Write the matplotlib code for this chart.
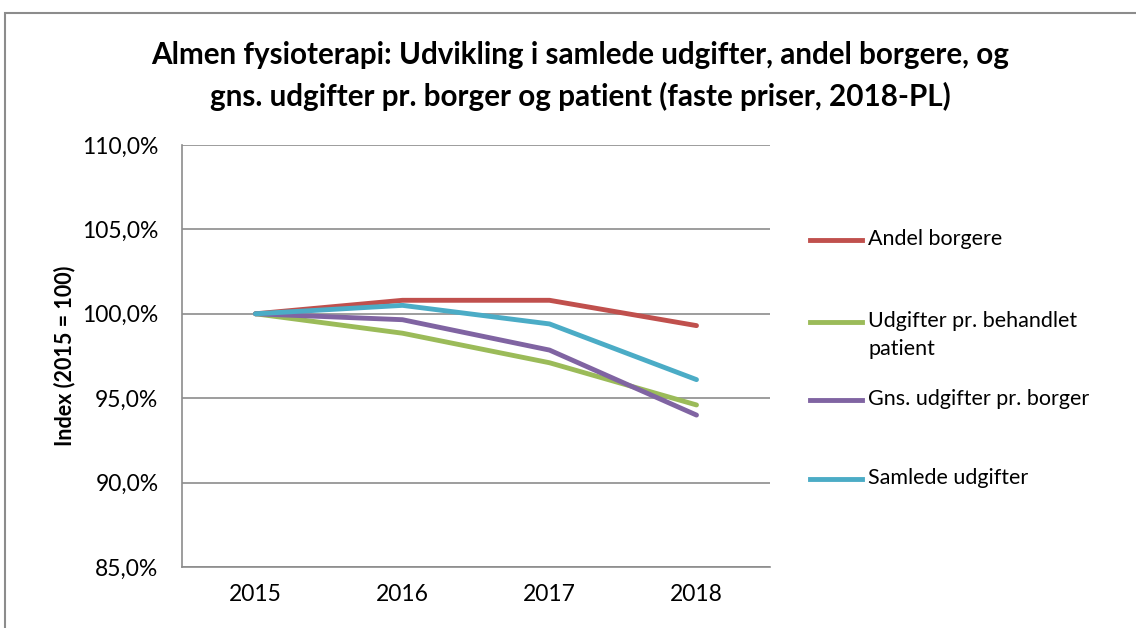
import matplotlib
matplotlib.use("Agg")
import matplotlib.pyplot as plt
from matplotlib.patches import Rectangle
from matplotlib.ticker import FuncFormatter

years = ["2015", "2016", "2017", "2018"]
andel_borgere = [100.0, 100.8, 100.8, 99.3]
udgifter_behandlet = [100.0, 98.85, 97.1, 94.6]
gns_udgifter_borger = [100.0, 99.65, 97.85, 94.0]
samlede_udgifter = [100.0, 100.5, 99.4, 96.1]

series_labels = ["Andel borgere", "Udgifter pr. behandlet\npatient",
                 "Gns. udgifter pr. borger", "Samlede udgifter"]
series_colors = ["#C0504D", "#9BBB59", "#8064A2", "#4BACC6"]
yticks = [85, 90, 95, 100, 105, 110]

plt.rcParams['font.family'] = ['Lato', 'DejaVu Sans']

W, H = 1136, 628
fig = plt.figure(figsize=(W / 100, H / 100), dpi=100)
fig.patch.set_facecolor("white")

# outer chart border
fig.add_artist(Rectangle((5 / W, -0.05), (W - 5) / W + 0.1, 1.05 - 13 / H,
                         transform=fig.transFigure, fill=False,
                         edgecolor="#8C8C8C", linewidth=1.5))

ax = fig.add_axes([182 / W, 1 - 567 / H, (770 - 182) / W, (567 - 145) / H])
x = list(range(len(years)))
data = [andel_borgere, udgifter_behandlet, gns_udgifter_borger, samlede_udgifter]
for vals, lab, col in zip(data, series_labels, series_colors):
    ax.plot(x, vals, color=col, linewidth=3.5, label=lab,
            solid_capstyle="round", solid_joinstyle="round")

ax.set_xlim(-0.5, 3.5)
ax.set_ylim(85, 110)
ax.set_yticks(yticks)
ax.yaxis.set_major_formatter(FuncFormatter(lambda v, p: f"{v:.1f}%".replace(".", ",")))
ax.set_xticks(x)
ax.set_xticklabels(years)
ax.tick_params(axis="both", length=0, labelsize=16.5, colors="#000000", pad=12)
ax.tick_params(axis="y", pad=17)
ax.grid(axis="y", color="#8C8C8C", linewidth=1.2)
ax.set_axisbelow(True)
for s in ["top", "right"]:
    ax.spines[s].set_visible(False)
for s in ["left", "bottom"]:
    ax.spines[s].set_color("#8C8C8C")
    ax.spines[s].set_linewidth(1.2)

ax.set_ylabel("Index (2015 = 100)", fontsize=15.5, fontweight="bold", labelpad=5)

fig.text(580 / W, 1 - 55 / H,
         "Almen fysioterapi: Udvikling i samlede udgifter, andel borgere, og",
         ha="center", va="center", fontsize=21.3, fontweight="bold")
fig.text(580 / W, 1 - 96 / H,
         "gns. udgifter pr. borger og patient (faste priser, 2018-PL)",
         ha="center", va="center", fontsize=21.3, fontweight="bold")

# legend entries
leg_y = [240, 322, 400, 479]
for yy, lab, col in zip(leg_y, series_labels, series_colors):
    fig.add_artist(plt.Line2D([810 / W, 862 / W], [1 - yy / H, 1 - yy / H],
                              color=col, linewidth=3.5, transform=fig.transFigure))
    fig.text(868 / W, 1 - (yy - 11) / H, lab, ha="left", va="top",
             fontsize=15.5, linespacing=1.5)

fig.savefig("out.png", dpi=100)
